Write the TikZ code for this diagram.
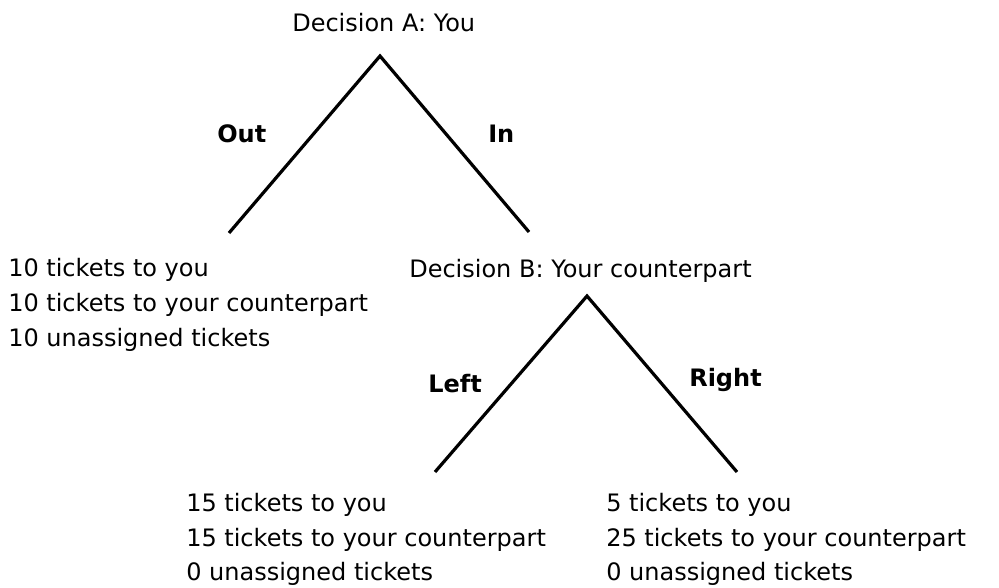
\documentclass[tikz,border=0pt]{standalone}
\usepackage{fontspec}
\setmainfont{DejaVu Sans}
\begin{document}
\begin{tikzpicture}[x=0.75pt,y=-0.75pt,
  txt/.style={anchor=base west,inner sep=0pt,font=\fontsize{18pt}{22pt}\selectfont},
  lbl/.style={anchor=base west,inner sep=0pt,font=\fontsize{18pt}{22pt}\selectfont\bfseries},
  leg/.style={line width=2.4pt,line cap=butt,line join=miter}]
\useasboundingbox (0,0) rectangle (999,588);
% decision nodes
\node[txt] (decA) at (292,32) {Decision A: You};
\node[txt] (decB) at (409,277) {Decision B: Your counterpart};
% tree coordinates
\coordinate (apexA) at (380,56);
\coordinate (outEnd) at (229,233);
\coordinate (inEnd) at (529,232);
\coordinate (apexB) at (587,296);
\coordinate (leftEnd) at (435,472);
\coordinate (rightEnd) at (737,472);
\draw[leg] (outEnd) -- (apexA) -- (inEnd);
\draw[leg] (leftEnd) -- (apexB) -- (rightEnd);
% branch labels
\node[lbl] (out) at (217,143) {Out};
\node[lbl] (in) at (488,143) {In};
\node[lbl] (left) at (428,392) {Left};
\node[lbl] (right) at (689,386) {Right};
% outcomes
\node[txt] (o1a) at (8,276) {10 tickets to you};
\node[txt] (o1b) at (8,311) {10 tickets to your counterpart};
\node[txt] (o1c) at (8,346) {10 unassigned tickets};
\node[txt] (o2a) at (186,511) {15 tickets to you};
\node[txt] (o2b) at (186,546) {15 tickets to your counterpart};
\node[txt] (o2c) at (186,580) {0 unassigned tickets};
\node[txt] (o3a) at (606,511) {5 tickets to you};
\node[txt] (o3b) at (606,546) {25 tickets to your counterpart};
\node[txt] (o3c) at (606,580) {0 unassigned tickets};
\end{tikzpicture}
\end{document}
